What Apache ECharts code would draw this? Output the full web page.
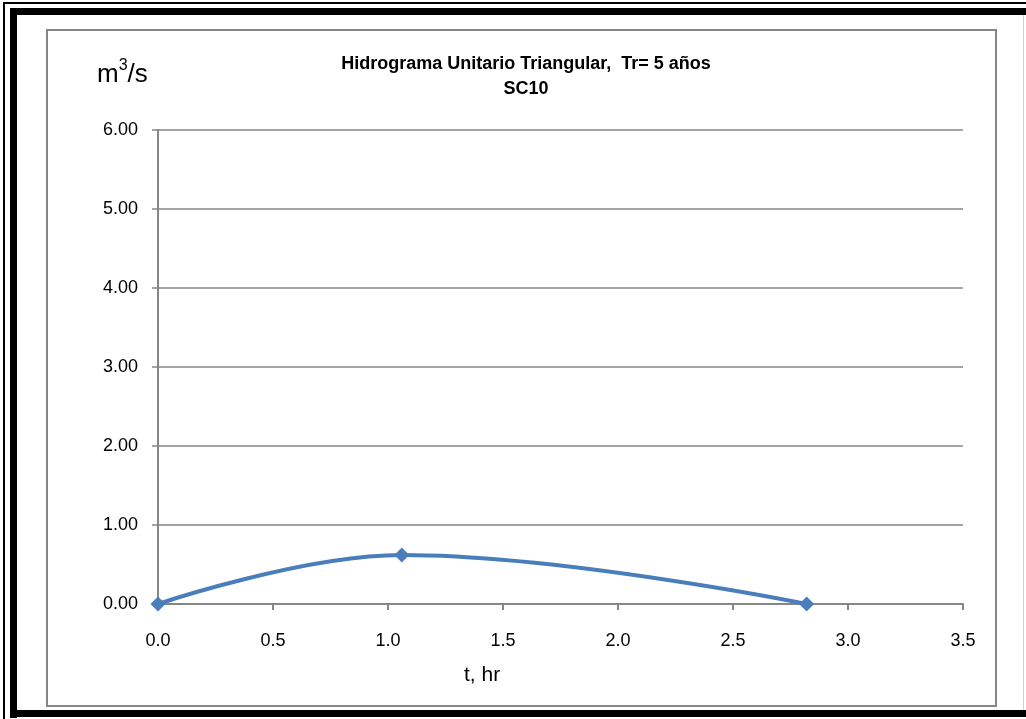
<!DOCTYPE html>
<html>
<head>
<meta charset="utf-8">
<script src="https://cdn.jsdelivr.net/npm/echarts@6/dist/echarts.min.js"></script>
<style>
  html, body { margin: 0; padding: 0; background: #ffffff; }
  #chart { width: 1026px; height: 719px; }
</style>
</head>
<body>
<div id="chart"></div>
<script>
// Hidrograma unitario triangular: tiempo (hr) vs caudal (m3/s)
const tiempo = [0, 1.06, 2.82];
const caudal = [0, 0.62, 0];
const xTicks = [0, 0.5, 1.0, 1.5, 2.0, 2.5, 3.0, 3.5];
const yTicks = [0, 1, 2, 3, 4, 5, 6];

const axisGray = '#868686';
const lineBlue = '#4A7EBB';
const font = '"Liberation Sans", Arial, sans-serif';

const chart = echarts.init(document.getElementById('chart'), null, { renderer: 'canvas' });

chart.setOption({
  backgroundColor: '#ffffff',
  animation: false,
  title: {
    text: 'Hidrograma Unitario Triangular,  Tr= 5 años\nSC10',
    left: 521,
    textAlign: 'center',
    top: 47,
    textStyle: {
      fontFamily: font,
      fontWeight: 'bold',
      fontSize: 18,
      lineHeight: 25,
      color: '#000000'
    }
  },
  grid: { left: 158, right: 63, top: 130, bottom: 115 },
  xAxis: {
    type: 'value',
    min: xTicks[0],
    max: xTicks[xTicks.length - 1],
    interval: 0.5,
    axisLine: { show: true, lineStyle: { color: axisGray, width: 2 } },
    axisTick: { show: true, inside: false, length: 6, lineStyle: { color: axisGray, width: 2 } },
    axisLabel: {
      margin: 28,
      fontFamily: font,
      fontSize: 18,
      color: '#000000',
      formatter: v => v.toFixed(1)
    },
    splitLine: { show: false }
  },
  yAxis: {
    type: 'value',
    min: yTicks[0],
    max: yTicks[yTicks.length - 1],
    interval: 1,
    axisLine: { show: true, lineStyle: { color: axisGray, width: 2 } },
    axisTick: { show: true, inside: false, length: 6, lineStyle: { color: axisGray, width: 1.5 } },
    axisLabel: {
      margin: 20,
      fontFamily: font,
      fontSize: 18,
      color: '#000000',
      formatter: v => v.toFixed(2)
    },
    splitLine: { show: true, lineStyle: { color: axisGray, width: 1.5 } }
  },
  series: [{
    type: 'line',
    data: tiempo.map((t, i) => [t, caudal[i]]),
    smooth: 0.4,
    symbol: 'diamond',
    symbolSize: 15,
    lineStyle: { color: lineBlue, width: 4 },
    itemStyle: { color: lineBlue },
    z: 5
  }],
  graphic: [
    // double black frame around the sheet
    { type: 'rect', shape: { x: 3, y: 2, width: 1030, height: 2 }, style: { fill: '#000000' } },
    { type: 'rect', shape: { x: 3, y: 2, width: 2, height: 720 }, style: { fill: '#000000' } },
    { type: 'rect', shape: { x: 10, y: 8, width: 1020, height: 7 }, style: { fill: '#000000' } },
    { type: 'rect', shape: { x: 10, y: 8, width: 7, height: 710 }, style: { fill: '#000000' } },
    { type: 'rect', shape: { x: 10, y: 710, width: 1020, height: 7 }, style: { fill: '#000000' } },
    { type: 'rect', shape: { x: 1023, y: 15, width: 1, height: 695 }, style: { fill: '#d0d0d0' } },
    // chart area border
    { type: 'rect', shape: { x: 47, y: 30, width: 949, height: 676 },
      style: { fill: 'none', stroke: axisGray, lineWidth: 2 }, z: -1 },
    // y axis unit
    { type: 'text', left: 97, top: 58,
      style: {
        text: '{m|m}{s|3}{m|/s}',
        rich: {
          m: { fontFamily: font, fontSize: 26, fill: '#000000', verticalAlign: 'bottom' },
          s: { fontFamily: font, fontSize: 16, fill: '#000000', verticalAlign: 'top', padding: [0, 0, 14, 0] }
        }
      }
    },
    // x axis title
    { type: 'text', left: 464, top: 665,
      style: { text: 't, hr', fontFamily: font, fontSize: 21, fill: '#000000' } }
  ]
});
</script>
</body>
</html>
